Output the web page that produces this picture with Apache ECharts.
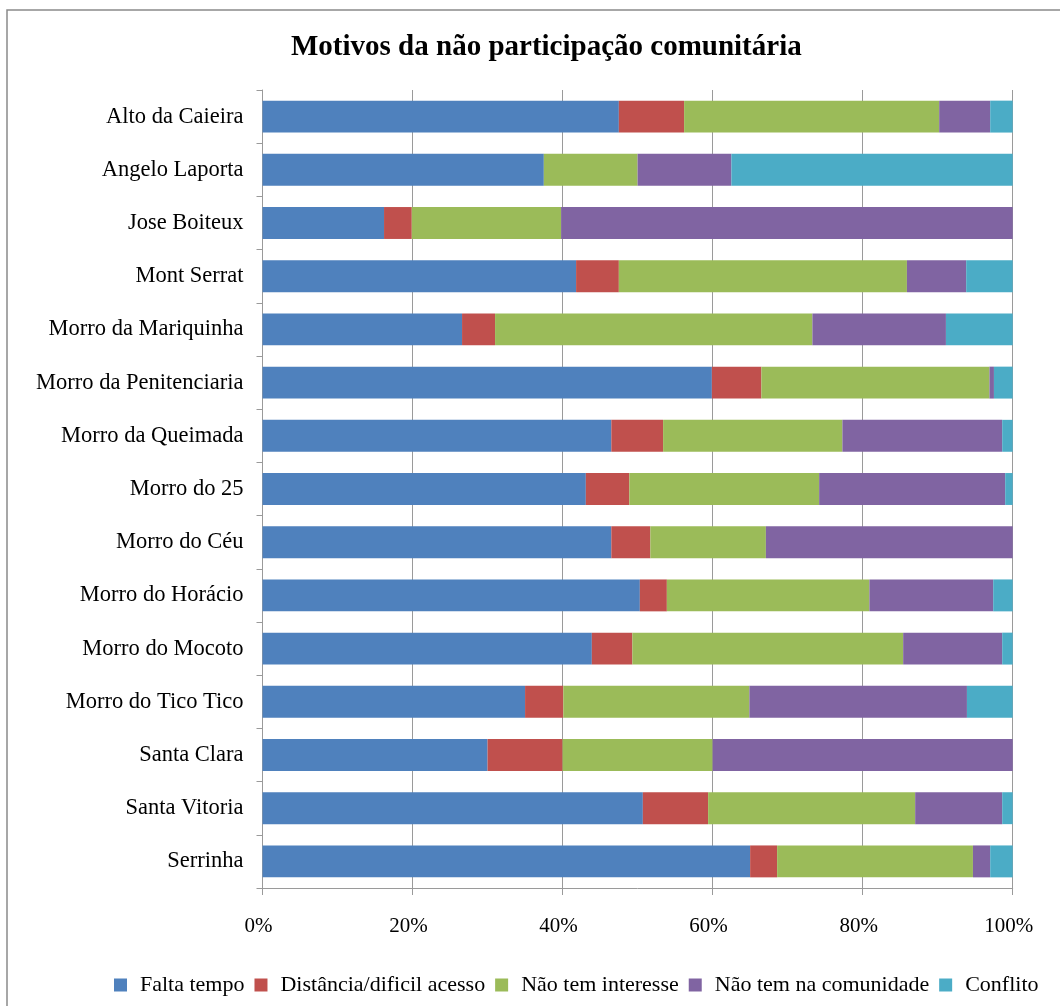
<!DOCTYPE html>
<html>
<head>
<meta charset="utf-8">
<script src="https://cdn.jsdelivr.net/npm/echarts@6/dist/echarts.min.js"></script>
<style>
  html, body { margin: 0; padding: 0; background: #fff; }
  #chart { width: 1060px; height: 1006px; }
</style>
</head>
<body>
<div id="chart"></div>
<script>
// Communities surveyed (top to bottom)
const categories = [
  'Alto da Caieira', 'Angelo Laporta', 'Jose Boiteux', 'Mont Serrat',
  'Morro da Mariquinha', 'Morro da Penitenciaria', 'Morro da Queimada',
  'Morro do 25', 'Morro do Céu', 'Morro do Horácio', 'Morro do Mocoto',
  'Morro do Tico Tico', 'Santa Clara', 'Santa Vitoria', 'Serrinha'
];

// Share of answers per reason (%)
const faltaTempo        = [47.5, 37.5, 16.2, 41.8, 26.6, 59.9, 46.5, 43.1, 46.5, 50.3, 43.9, 35.0, 30.0, 50.7, 65.0];
const distancia         = [ 8.7,  0.0,  3.7,  5.7,  4.4,  6.6,  6.9,  5.8,  5.2,  3.6,  5.4,  5.1, 10.0,  8.7,  3.6];
const naoTemInteresse   = [34.0, 12.5, 19.9, 38.4, 42.3, 30.4, 23.9, 25.3, 15.4, 27.0, 36.1, 24.8, 20.0, 27.6, 26.1];
const naoTemComunidade  = [ 6.8, 12.5, 60.2,  7.9, 17.8,  0.6, 21.3, 24.8, 32.9, 16.5, 13.2, 29.0, 40.0, 11.6,  2.3];
const conflito          = [ 3.0, 37.5,  0.0,  6.2,  8.9,  2.5,  1.4,  1.0,  0.0,  2.6,  1.4,  6.1,  0.0,  1.4,  3.0];

const seriesNames = ['Falta tempo', 'Distância/dificil acesso', 'Não tem interesse', 'Não tem na comunidade', 'Conflito'];
const seriesData  = [faltaTempo, distancia, naoTemInteresse, naoTemComunidade, conflito];
const colors = ['#4F81BD', '#C0504D', '#9BBB59', '#8064A2', '#4BACC6'];

const xTicks = [0, 20, 40, 60, 80, 100];

const FONT = "'Liberation Serif', 'Times New Roman', serif";
const GRAY = '#9a9a9a';

const chart = echarts.init(document.getElementById('chart'), null, { renderer: 'canvas' });

chart.setOption({
  animation: false,
  backgroundColor: '#fff',
  color: colors,
  title: {
    text: 'Motivos da não participação comunitária',
    left: 286,
    top: 28,
    textStyle: { fontFamily: FONT, fontSize: 29, fontWeight: 'bold', color: '#000' }
  },
  graphic: [{
    type: 'rect',
    shape: { x: 7, y: 10, width: 1200, height: 1200 },
    style: { fill: 'none', stroke: '#8a8a8a', lineWidth: 1.5 },
    silent: true,
    z: -1
  }],
  legend: {
    data: seriesNames,
    left: 109,
    top: 969,
    itemWidth: 13,
    itemHeight: 13,
    itemGap: 10,
    icon: 'rect',
    textStyle: { fontFamily: FONT, fontSize: 22, color: '#000', padding: [0, 0, 0, 8] }
  },
  grid: {
    left: 262.5,
    right: 47.3,
    top: 90,
    bottom: 118,
    containLabel: false
  },
  xAxis: {
    type: 'value',
    min: xTicks[0],
    max: xTicks[xTicks.length - 1],
    interval: xTicks[1] - xTicks[0],
    axisLine: { show: true, lineStyle: { color: GRAY, width: 1 } },
    axisTick: { show: true, length: 7, lineStyle: { color: GRAY } },
    splitLine: { show: true, lineStyle: { color: GRAY, width: 1 } },
    axisLabel: {
      formatter: '{value}%',
      margin: 28,
      padding: [0, 8, 0, 0],
      fontFamily: FONT,
      fontSize: 21,
      color: '#000'
    }
  },
  yAxis: {
    type: 'category',
    data: categories,
    inverse: true,
    axisLine: { show: true, lineStyle: { color: GRAY, width: 1 } },
    axisTick: { show: true, length: 6, alignWithLabel: false, lineStyle: { color: GRAY } },
    axisLabel: {
      margin: 19,
      fontFamily: FONT,
      fontSize: 22.5,
      color: '#000'
    }
  },
  series: seriesNames.map((name, i) => ({
    name: name,
    type: 'bar',
    stack: 'total',
    barWidth: '60%',
    data: seriesData[i],
    itemStyle: { color: colors[i] }
  }))
});
</script>
</body>
</html>
